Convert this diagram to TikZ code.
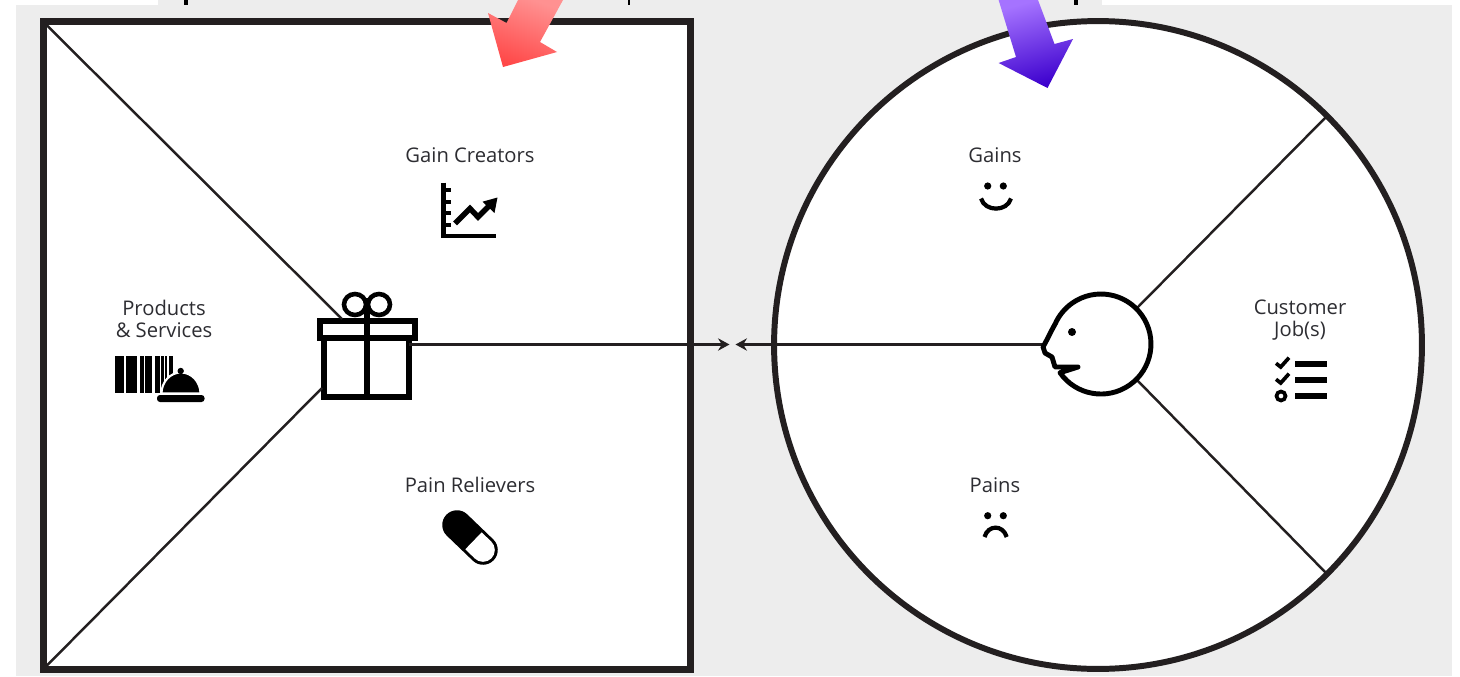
\documentclass[tikz,border=0pt]{standalone}
\usepackage{fontspec}
\setmainfont{Open Sans}
\usepackage{xcolor}
\definecolor{panel}{RGB}{237, 237, 237}
\definecolor{ink}{RGB}{35, 31, 32}
\definecolor{labeltext}{RGB}{45, 45, 50}
\definecolor{redtop}{RGB}{255, 145, 145}
\definecolor{redtip}{RGB}{255, 72, 72}
\definecolor{bluetop}{RGB}{165, 115, 255}
\definecolor{bluetip}{RGB}{60, 0, 205}
\usetikzlibrary{arrows.meta, shapes.geometric}
\tikzset{
  frame/.style={draw=ink, fill=white, line width=4pt, inner sep=0pt, outer sep=0pt},
  part/.style={draw=black, line width=2.9pt, fill=white, inner sep=0pt, outer sep=0pt},
  divider/.style={draw=ink, line width=1.4pt},
  link/.style={draw=ink, line width=1.7pt, -{Stealth[length=6.5pt, width=7pt]}},
  label/.style={text=labeltext, font=\fontsize{11.5}{12.6}\selectfont, align=center, inner sep=0pt},
  icon/.style={draw=black, line width=2.3pt}
}
\begin{document}
\begin{tikzpicture}[x=0.02cm, y=-0.02cm]
  \useasboundingbox (0,0) rectangle (1460,676);
  % background
  \fill[white] (0,0) rectangle (1460,676);
  \fill[panel] (16,5) rectangle (1452,676);
  \fill[panel] (158,0) rectangle (1102,5);
  \fill[black] (184,0) rectangle (188,5);
  \fill[black] (628.3,0) rectangle (629.8,5);
  \fill[black] (1073.5,0) rectangle (1077.5,5);
  % square and circle
  \node[frame, minimum size=12.96cm] (valuemap) at (367,345.5) {};
  \node[frame, circle, line width=3.4pt, minimum size=12.96cm] (profile) at (1098,345) {};
  % gift and face
  \node[part, minimum width=1.7cm, minimum height=1.18cm] (giftbox) at (366.5,367.5) {};
  \node[part, minimum width=1.9cm, minimum height=0.34cm] (giftlid) at (367.5,329.5) {};
  \node[circle, minimum size=2cm, inner sep=0pt, outer sep=0pt] (face) at (1101,344) {};
  \coordinate (nose) at (1044,344.5);
  \coordinate (fitleft) at (729.5,344.5);
  \coordinate (customerleft) at (735.5,344.5);
  \coordinate (lidtop) at (342,319);
  \coordinate (boxside) at (322,388);
  % dividers
  \draw[divider] (valuemap.north west) -- (lidtop);
  \draw[divider] (valuemap.south west) -- (boxside);
  \draw[divider] (profile.45) -- (face.45);
  \draw[divider] (profile.-45) -- (face.-45);
  \draw[link] (giftbox.east |- fitleft) -- (fitleft);
  \draw[link] (nose) -- (customerleft);
  % ribbon
  \draw[black, line width=3pt] (367,298) -- (367,397);
  \draw[black, line width=2.6pt] (355,304.5) ellipse (11 and 10.5);
  \draw[black, line width=2.6pt] (379,304.5) ellipse (11 and 10.5);
  % face outline
  \draw[black, line width=2.8pt, line join=round]
    (1060,372.7) arc[start angle=145, end angle=-156, radius=50]
    .. controls (1050,333) and (1047,340) .. (1043,347)
    -- (1045,353) -- (1052,357) -- (1055,367) -- (1078,367) -- cycle;
  \fill[black] (1072,332) circle (4);
  % labels
  \node[label] (gaincreators) at (470,155) {Gain Creators};
  \node[label] (products) at (164,319) {Products\\\& Services};
  \node[label] (painrelievers) at (470,485) {Pain Relievers};
  \node[label] (gains) at (995,155) {Gains};
  \node[label] (pains) at (995,485) {Pains};
  \node[label] (jobs) at (1300,320.5) {Customer\\Job(s)};
  % barcode and bell
  \foreach \xa/\xb in {115/123.5, 126/136.7, 139.5/143.5, 144.5/151.5, 155/159.5, 161/163.5, 165/167, 168.5/172.5}
    \fill[black] (\xa,356) rectangle (\xb,393);
  \fill[black, draw=white, line width=1.2pt] (161.5,393.5) arc[start angle=180, end angle=360, x radius=19.5, y radius=21] -- cycle;
  \fill[black] (180.7,371) circle (3.2);
  \fill[black, rounded corners=1.7pt] (157,395) rectangle (204.5,402);
  % chart
  \draw[icon] (443.5,182.5) -- (443.5,235.7) -- (496,235.7);
  \foreach \ytick in {190,201.7,213.3,225}
    \draw[icon] (443.5,\ytick) -- (451,\ytick);
  \draw[black, line width=3.1pt] (455,223.5) -- (470,208.5) -- (478,217) -- (489,206);
  \fill[black] (497.5,197.5) -- (482.5,201.7) -- (494.5,213) -- cycle;
  % pill
  \draw[black, line width=16.8pt, line cap=round] (457,525) -- (483,550);
  \draw[white, line width=13.4pt] (473.5,540.8) -- (483,550);
  \fill[white] (483,550) circle (11.8);
  % checklist
  \foreach \ybar in {364,379.5,396}
    \fill[black] (1295,\ybar-3) rectangle (1326.7,\ybar+3);
  \foreach \ycheck in {0,16}
    \draw[black, line width=2.1pt] (1276,363.3+\ycheck) -- (1280.7,367+\ycheck) -- (1289,357.7+\ycheck);
  \draw[black, line width=2.1pt] (1281,396) circle (4.5);
  % smile and frown
  \fill[black] (987.7,186) circle (3.6);
  \fill[black] (1003.3,186) circle (3.6);
  \draw[black, line width=2.4pt] (981,198.5) .. controls (985,212) and (1007,212) .. (1011,198.5);
  \fill[black] (987.7,515.7) circle (3.6);
  \fill[black] (1003.3,515.7) circle (3.6);
  \draw[black, line width=2.4pt] (984.5,537) .. controls (988,524.5) and (1003,524.5) .. (1006.7,537);
  % big arrows
  \shade[top color=redtop, bottom color=redtip, shading angle=-20]
    (518,0) -- (506.5,23) -- (488,13) -- (503,67) -- (557,52) -- (540,42) -- (563,0) -- cycle;
  \shade[top color=bluetop, bottom color=bluetip, shading angle=15]
    (998.6,0) -- (1016,57) -- (998.6,63) -- (1047.5,88) -- (1073,39) -- (1054.5,44) -- (1038,0) -- cycle;
\end{tikzpicture}
\end{document}
